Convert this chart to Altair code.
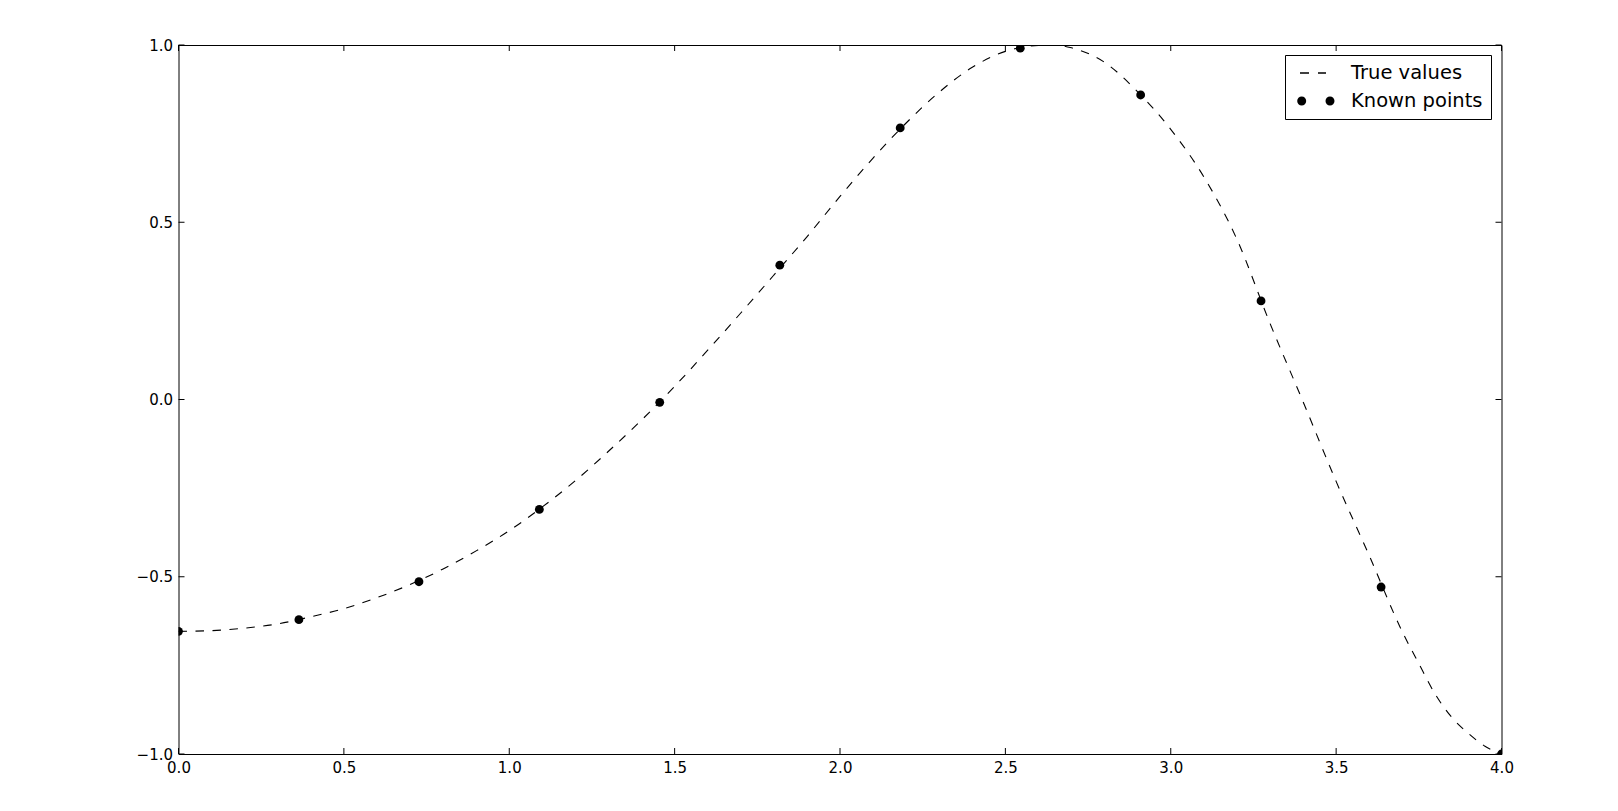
import altair as alt
import pandas as pd

# ---- data ----
true_x = [0.0, 0.1, 0.2, 0.3, 0.4, 0.5, 0.6, 0.7, 0.8, 0.9, 1.0, 1.1, 1.2, 1.3,
          1.4, 1.5, 1.6, 1.7, 1.8, 1.9, 2.0, 2.1, 2.2, 2.3, 2.4, 2.5, 2.6, 2.65,
          2.7, 2.8, 2.9, 3.0, 3.1, 3.2, 3.3, 3.4, 3.5, 3.6, 3.7, 3.75, 3.8, 3.85,
          3.9, 3.95, 4.0]
true_y = [-0.654, -0.652, -0.645, -0.633, -0.613, -0.590, -0.559, -0.522, -0.478,
          -0.427, -0.370, -0.303, -0.229, -0.146, -0.058, 0.037, 0.139, 0.244,
          0.351, 0.459, 0.573, 0.681, 0.780, 0.867, 0.937, 0.982, 0.999, 1.0,
          0.992, 0.951, 0.868, 0.762, 0.628, 0.452, 0.215, -0.006, -0.231, -0.44,
          -0.655, -0.745, -0.832, -0.897, -0.942, -0.978, -1.0]

known_x = [0.0, 0.364, 0.727, 1.091, 1.455, 1.818, 2.182, 2.545, 2.909, 3.273, 3.636, 4.0]
known_y = [-0.654, -0.621, -0.514, -0.310, -0.008, 0.379, 0.766, 0.991, 0.859, 0.278, -0.529, -1.0]

x_ticks = [0.0, 0.5, 1.0, 1.5, 2.0, 2.5, 3.0, 3.5, 4.0]
y_ticks = [-1.0, -0.5, 0.0, 0.5, 1.0]
series_names = ["True values", "Known points"]

W, H = 1323, 709
TICK = 6

true_df = pd.DataFrame({"x": true_x, "y": true_y})
known_df = pd.DataFrame({"x": known_x, "y": known_y})
legend_df = pd.DataFrame({"series": series_names})
xt_df = pd.DataFrame({"t": x_ticks})
yt_df = pd.DataFrame({"t": y_ticks})

xs = alt.Scale(domain=[0, 4], nice=False, zero=False)
ys = alt.Scale(domain=[-1, 1], nice=False, zero=False)

x_axis = alt.Axis(values=x_ticks, format=".1f", title=None, labelPadding=6,
                  labelFlush=False, labelOverlap=False)
y_axis = alt.Axis(values=y_ticks, format=".1f", title=None, labelPadding=6,
                  labelFlush=False, labelOverlap=False)

# legend glyphs: two dashes (thin filled bars), two dots (unit = sqrt(symbolSize)/2 px)
dash_path = ("M -0.3 -0.08 L 0.6 -0.08 L 0.6 0.08 L -0.3 0.08 Z "
             "M 1.5 -0.08 L 2.3 -0.08 L 2.3 0.08 L 1.5 0.08 Z")
dot_path = ("M -0.58 0 A 0.45 0.45 0 1 0 0.32 0 A 0.45 0.45 0 1 0 -0.58 0 Z "
            "M 2.25 0 A 0.45 0.45 0 1 0 3.15 0 A 0.45 0.45 0 1 0 2.25 0 Z")

legend = alt.Legend(
    title=None, orient="none", legendX=1106.5, legendY=10,
    strokeColor="black", fillColor="white", padding=8, cornerRadius=0,
    labelFont="DejaVu Sans", labelFontSize=19.5, labelColor="black",
    labelOffset=38, symbolSize=400, rowPadding=8,
    symbolOpacity=1, symbolFillColor="black", symbolStrokeColor="black",
    symbolStrokeWidth=0,
)

line = alt.Chart(true_df).mark_line(color="black", strokeWidth=1.1, strokeDash=[8.5, 8.5],
                                    interpolate="monotone", clip=True).encode(
    x=alt.X("x:Q", scale=xs, axis=x_axis),
    y=alt.Y("y:Q", scale=ys, axis=y_axis),
)
points = alt.Chart(known_df).mark_point(filled=True, size=78, opacity=1, color="black", clip=True).encode(
    x=alt.X("x:Q", scale=xs, axis=x_axis),
    y=alt.Y("y:Q", scale=ys, axis=y_axis),
)
legend_layer = alt.Chart(legend_df).mark_point(filled=True, opacity=0, color="black").encode(
    x=alt.value(0), y=alt.value(0),
    shape=alt.Shape("series:N", scale=alt.Scale(domain=series_names, range=[dash_path, dot_path]),
                    legend=legend),
)

def xtick(y0, y1):
    return alt.Chart(xt_df).mark_rule(color="black", strokeWidth=1).encode(
        x=alt.X("t:Q", scale=xs, axis=x_axis), y=alt.value(y0), y2=alt.value(y1))

def ytick(x0, x1):
    return alt.Chart(yt_df).mark_rule(color="black", strokeWidth=1).encode(
        y=alt.Y("t:Q", scale=ys, axis=y_axis), x=alt.value(x0), x2=alt.value(x1))

chart = alt.layer(
    line, points,
    xtick(H, H - TICK), xtick(0, TICK),
    ytick(0, TICK), ytick(W, W - TICK),
    legend_layer,
).properties(
    width=W, height=H,
    autosize=alt.AutoSizeParams(type="none"),
    padding={"left": 170.5, "top": 37, "right": 100, "bottom": 40},
    background="white",
).configure_view(
    stroke="black", strokeWidth=1,
).configure_axis(
    labelFont="DejaVu Sans", labelFontSize=15, labelColor="black",
    domain=False, ticks=False, grid=False,
)

chart.save("out.html", embed_options={"renderer": "svg", "actions": False})
